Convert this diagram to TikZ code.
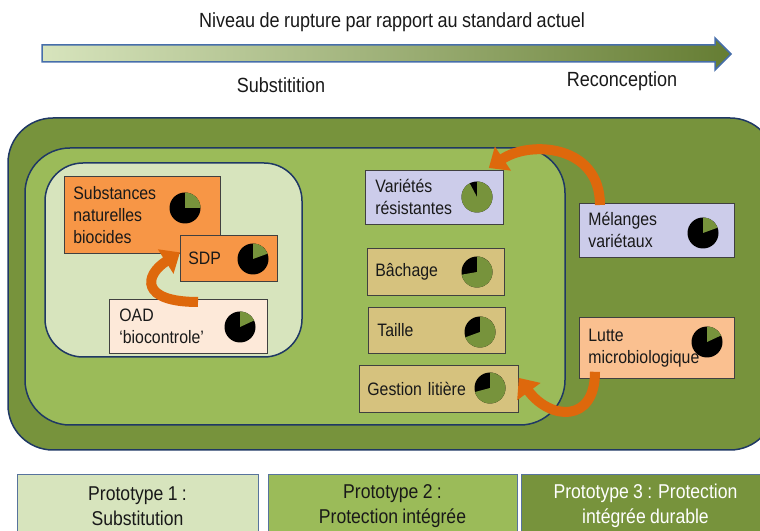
\documentclass[tikz,border=0pt]{standalone}
\usepackage{fontspec}
\setmainfont{Liberation Sans}[FakeStretch=0.88,WordSpace=0.88]
\usetikzlibrary{arrows.meta}
\definecolor{vertclair}{RGB}{215,228,189}
\definecolor{vertmoyen}{RGB}{155,187,89}
\definecolor{vertfonce}{RGB}{119,147,60}
\definecolor{bleucadre}{RGB}{31,56,100}
\definecolor{bleufleche}{RGB}{70,110,170}
\definecolor{orangeboite}{RGB}{247,150,70}
\definecolor{rosepale}{RGB}{253,233,217}
\definecolor{lavande}{RGB}{204,204,234}
\definecolor{beige}{RGB}{214,194,126}
\definecolor{peche}{RGB}{250,192,144}
\definecolor{orangefl}{RGB}{222,104,12}
\definecolor{texte}{RGB}{25,25,25}
% camembert: x, y, debut et fin de la part verte
\newcommand{\camembert}[4]{%
 \fill[black] (#1,#2) circle (15.5pt);
 \fill[vertfonce] (#1,#2) -- ++(#3:15.5pt) arc (#3:#4:15.5pt) -- cycle;}
\begin{document}
\begin{tikzpicture}[x=1pt,y=1pt,
 boite/.style={draw=black!75, line width=0.8pt, anchor=north west, inner ysep=0pt, align=left, text=texte, font=\fontsize{18}{22}\selectfont},
 cadre/.style={draw=bleucadre, line width=1.5pt, rounded corners=#1},
 proto/.style={draw=bleufleche!70!gray, line width=1pt, anchor=north, minimum width=#1, minimum height=63pt, align=center, font=\fontsize{20}{25}\selectfont, text=texte},
 fleche/.style={draw=orangefl, line width=10pt, -{Triangle[width=28pt,length=17pt]}},
 legende/.style={text=texte, font=\fontsize{20.5}{24}\selectfont}]
\useasboundingbox (0,0) rectangle (760,530);
%Fleche du haut
\draw[draw=bleufleche, line width=1.5pt, left color=vertclair, middle color=vertmoyen, right color=vertfonce!85!black]
 (42,468) -- (715,468) -- (715,460) -- (731,476) -- (715,492) -- (715,485) -- (42,485) -- cycle;
\node[legende] (titre) at (392,508) {Niveau de rupture par rapport au standard actuel};
\node[legende] (substit) at (281,445) {Substitition};
\node[legende] (reconc) at (622,449) {Reconception};
%Cadres
\draw[cadre=45pt, fill=vertfonce] (8,80) rectangle (775,412);
\draw[cadre=45pt, fill=vertmoyen] (25,105) rectangle (565,382);
\draw[cadre=38pt, fill=vertclair] (45,173) rectangle (302,367);
%Boites
\node[boite, fill=orangeboite, inner xsep=9pt, text width=138pt, minimum height=77pt] (subst) at (64,354) {Substances\\naturelles\\biocides};
\node[boite, fill=orangeboite, inner xsep=8pt, text width=81pt, minimum height=46pt] (sdp) at (180,295) {SDP};
\node[boite, fill=rosepale, inner xsep=10pt, text width=138pt, minimum height=54pt] (oad) at (109,231) {OAD\\‘biocontrole’};
\node[boite, fill=lavande, inner xsep=10pt, text width=118pt, minimum height=54pt] (var) at (365,360) {Variétés\\résistantes};
\node[boite, fill=beige, inner xsep=8pt, text width=121pt, minimum height=47pt] (bach) at (367,282) {Bâchage};
\node[boite, fill=beige, inner xsep=9pt, text width=119pt, minimum height=46pt] (taille) at (368,223) {Taille};
\node[boite, fill=beige, inner xsep=8pt, text width=143pt, minimum height=47pt] (gest) at (359,165) {Gestion litière};
\node[boite, fill=lavande, inner xsep=9pt, text width=137pt, minimum height=54pt] (mel) at (579,327) {Mélanges\\variétaux};
\node[boite, fill=peche, inner xsep=9pt, text width=137pt, minimum height=61pt] (lutte) at (579,213) {Lutte\\microbiologique};
%Camemberts
\camembert{185}{322}{0}{90}
\camembert{253}{271}{20}{90}
\camembert{240}{203}{25}{90}
\camembert{477}{333}{118}{450}
\camembert{477}{258}{190}{450}
\camembert{480}{198}{200}{450}
\camembert{490}{142}{195}{450}
\camembert{703}{297}{20}{90}
\camembert{707}{188}{25}{90}
%Prototypes
\node[proto=241pt, fill=vertclair] (p1) at (137.5,56) {Prototype 1 :\\Substitution};
\node[proto=249pt, fill=vertmoyen] (p2) at (392.5,56) {Prototype 2 :\\Protection intégrée};
\node[proto=249pt, fill=vertfonce, text=white] (p3) at (645.5,56) {Prototype 3 : Protection\\intégrée durable};
%Fleches courbes
\coordinate (d1) at (198,228);
\draw[fleche] (d1) .. controls +(-58,0) and +(-36,-23) .. ([yshift=6pt]sdp.west);
\draw[fleche] ([xshift=21pt,yshift=-2pt]mel.north west) .. controls +(0,60) and +(42,28) .. ([xshift=-15pt,yshift=2pt]var.north east);
\draw[fleche] ([xshift=16pt,yshift=7pt]lutte.south west) .. controls +(0,-52) and +(31,-42) .. ([yshift=11pt]gest.east);
\end{tikzpicture}
\end{document}
